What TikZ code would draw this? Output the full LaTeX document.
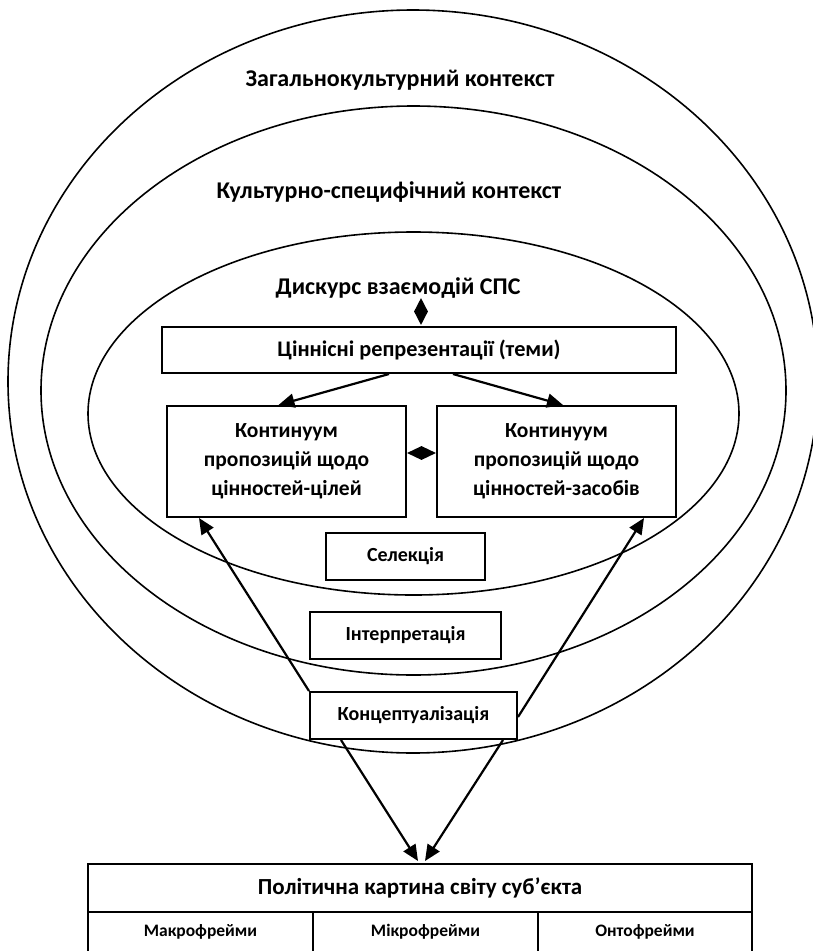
\documentclass[tikz,border=0pt]{standalone}
\usepackage{fontspec}
\setmainfont{Carlito}
\usetikzlibrary{shapes.geometric,arrows.meta,calc}
\begin{document}
\begin{tikzpicture}[x=1pt,y=-1pt,
  box/.style={draw, fill=white, line width=2pt, rectangle, inner sep=0pt, align=center, font=\bfseries\fontsize{21.5}{29}\selectfont},
  ell/.style={line width=1.6pt},
  arr/.style={line width=2.2pt, -{Triangle[length=16pt,width=14pt]}},
  dia/.style={diamond, fill=black, inner sep=0pt},
  lbl/.style={font=\bfseries\fontsize{24}{28}\selectfont, inner sep=0pt}]
\useasboundingbox (0,0) rectangle (813,951);
\clip (0,0) rectangle (813,951);
% ellipses
\draw[ell] (413,381.5) ellipse [x radius=405pt, y radius=371.5pt];
\draw[ell] (413.5,390.5) ellipse [x radius=372.5pt, y radius=284.5pt];
\draw[ell] (413.5,413.5) ellipse [x radius=325.5pt, y radius=181.5pt];
% labels
\node[lbl] (outerlbl) at (400,80) {Загальнокультурний контекст};
\node[lbl] (midlbl) at (389,192) {Культурно-специфічний контекст};
\node[lbl] (innerlbl) at (398,288) {Дискурс взаємодій СПС};
% boxes
\node[box, minimum width=514pt, minimum height=46pt, font=\bfseries\fontsize{22.3}{26}\selectfont] (themes) at (419,350) {Ціннісні репрезентації (теми)};
\node[dia, minimum width=14pt, minimum height=27pt] (d1) at (421,311.5) {};
\node[box, minimum width=239pt, minimum height=111pt] (goals) at (286.5,461.5) {Континуум\\пропозицій щодо\\цінностей-цілей};
\node[box, minimum width=239pt, minimum height=111pt] (means) at (556.5,461.5) {Континуум\\пропозицій щодо\\цінностей-засобів};
\node[dia, minimum width=29pt, minimum height=14pt] (d2) at (421.5,453) {};
\node[box, minimum width=159pt, minimum height=47pt, font=\bfseries\fontsize{20}{24}\selectfont] (sel) at (405.5,556.5) {Селекція};
\node[box, minimum width=191pt, minimum height=47pt, font=\bfseries\fontsize{20}{24}\selectfont] (interp) at (405.5,635.5) {Інтерпретація};
\node[box, minimum width=207pt, minimum height=47pt, font=\bfseries\fontsize{20}{24}\selectfont] (concept) at (413.5,715.5) {Концептуалізація};
% table
\node[box, minimum width=664pt, minimum height=48pt, font=\bfseries\fontsize{23}{27}\selectfont] (pic) at (420,888) {Політична картина світу суб’єкта};
\node[box, minimum width=225pt, minimum height=40pt, font=\bfseries\fontsize{17.5}{21}\selectfont] (macro) at (200.5,932) {Макрофрейми};
\node[box, minimum width=225pt, minimum height=40pt, font=\bfseries\fontsize{17.5}{21}\selectfont] (micro) at (425.5,932) {Мікрофрейми};
\node[box, minimum width=214pt, minimum height=40pt, font=\bfseries\fontsize{17.5}{21}\selectfont] (onto) at (645,932) {Онтофрейми};
% arrows
\draw[arr] ($(themes.south)+(-30,0)$) -- ($(goals.north)+(-8,0)$);
\draw[arr] ($(themes.south)+(34,0)$) -- ($(means.north)+(6.5,0)$);
\draw[arr] (concept.north west) -- ($(goals.south west)+(33,0)$);
\draw[arr] ($(concept.east)+(0,1.5)$) -- ($(means.south east)+(-33,0)$);
\draw[arr] ($(concept.south west)+(32,0)$) -- ($(pic.north)+(-2,-2)$);
\draw[arr] ($(concept.south east)+(-15,0)$) -- ($(pic.north)+(5,-2)$);
\end{tikzpicture}
\end{document}
